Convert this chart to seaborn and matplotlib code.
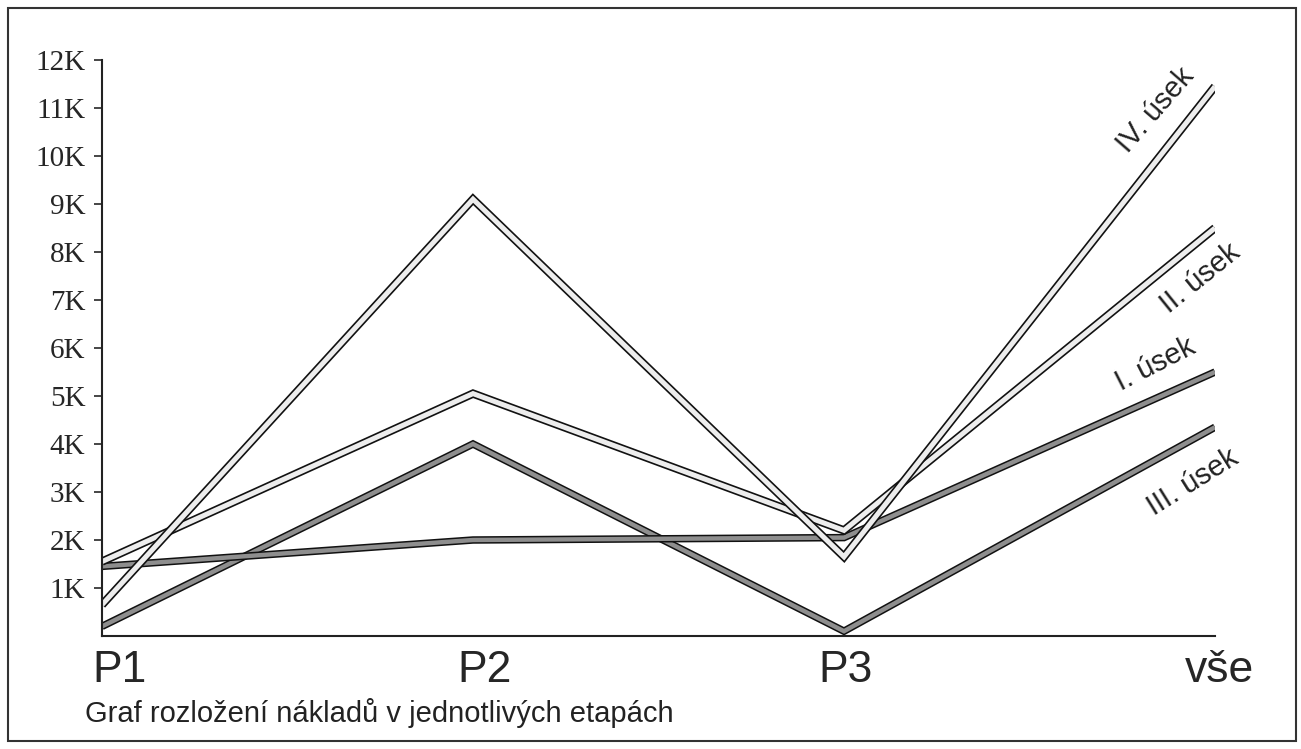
import numpy as np
import pandas as pd
import seaborn as sns
import matplotlib.pyplot as plt
import matplotlib.patheffects as pe
import matplotlib.transforms as mtrans
from matplotlib.patches import Rectangle

# Data (costs per stage, in CZK)
stages = ["P1", "P2", "P3", "vše"]
useky = ["I. úsek", "II. úsek", "III. úsek", "IV. úsek"]
cost_I = [1450, 2000, 2050, 5500]
cost_II = [1550, 5050, 2200, 8500]
cost_III = [200, 4000, 100, 4350]
cost_IV = [650, 9100, 1650, 11450]
yticks = [1000, 2000, 3000, 4000, 5000, 6000, 7000, 8000, 9000, 10000, 11000, 12000]
ytick_labels = ["1K", "2K", "3K", "4K", "5K", "6K", "7K", "8K", "9K", "10K", "11K", "12K"]
caption = "Graf rozložení nákladů v jednotlivých etapách"

pos = np.arange(len(stages))
df = pd.DataFrame({
    "pos": np.tile(pos, 4),
    "usek": np.repeat(useky, len(stages)),
    "cost": cost_I + cost_II + cost_III + cost_IV,
})

sns.set_style("white")
plt.rcParams["font.family"] = ["Liberation Sans", "DejaVu Sans"]

fig = plt.figure(figsize=(13.01, 7.49), dpi=100)
ax = fig.add_axes([102 / 1301, 1 - 636 / 749, (1215 - 102) / 1301, (636 - 60) / 749])

# style per series: inner colour, outline width, inner width
styles = {
    "I. úsek": ("#8e8e8e", 5.4, 3.2),
    "III. úsek": ("#8e8e8e", 5.4, 3.2),
    "II. úsek": ("#ededed", 6.0, 3.6),
    "IV. úsek": ("#ededed", 6.0, 3.6),
}
for name in ["III. úsek", "I. úsek", "II. úsek", "IV. úsek"]:
    col, outer, inner = styles[name]
    sns.lineplot(data=df[df.usek == name], x="pos", y="cost", ax=ax,
                 color=col, linewidth=inner, solid_capstyle="butt",
                 solid_joinstyle="miter", legend=False,
                 path_effects=[pe.Stroke(linewidth=outer, foreground="#111111"), pe.Normal()])

# rotated series labels at the right end
labels_pos = {
    "IV. úsek": (2.84, 10950, 49),
    "II. úsek": (2.96, 7450, 39),
    "I. úsek": (2.84, 5650, 27),
    "III. úsek": (2.94, 3200, 32),
}
for name, (x, y, rot) in labels_pos.items():
    ax.text(x, y, name, rotation=rot, rotation_mode="anchor", ha="center",
            va="center", fontsize=21, color="#222222")

ax.set_xlim(0, 3)
ax.set_ylim(0, 12000)
ax.set_xlabel("")
ax.set_ylabel("")
ax.set_xticks(pos)
ax.set_xticklabels(stages, fontsize=32)
ax.tick_params(axis="x", length=0, pad=10)
# nudge the category labels the way they sit in the original
shifts = [18, 12, 2, 4]
for lab, dx in zip(ax.get_xticklabels(), shifts):
    lab.set_transform(lab.get_transform() + mtrans.ScaledTranslation(dx / 100, 0, fig.dpi_scale_trans))
ax.set_yticks(yticks)
ax.set_yticklabels(ytick_labels, fontfamily="Liberation Serif", fontsize=21)
ax.tick_params(axis="y", length=6, width=1.2, direction="out", pad=6, left=True)
for s in ["top", "right"]:
    ax.spines[s].set_visible(False)
for s in ["left", "bottom"]:
    ax.spines[s].set_color("#222222")
    ax.spines[s].set_linewidth(1.5)

fig.text(85 / 1301, 1 - 722 / 749, caption, fontsize=21, ha="left", va="baseline", color="#222222")
fig.patches.append(Rectangle((8 / 1301, 8 / 749), 1288 / 1301, 733 / 749,
                             transform=fig.transFigure, fill=False,
                             edgecolor="#333333", linewidth=1.5))

fig.savefig("out.png", dpi=100)
